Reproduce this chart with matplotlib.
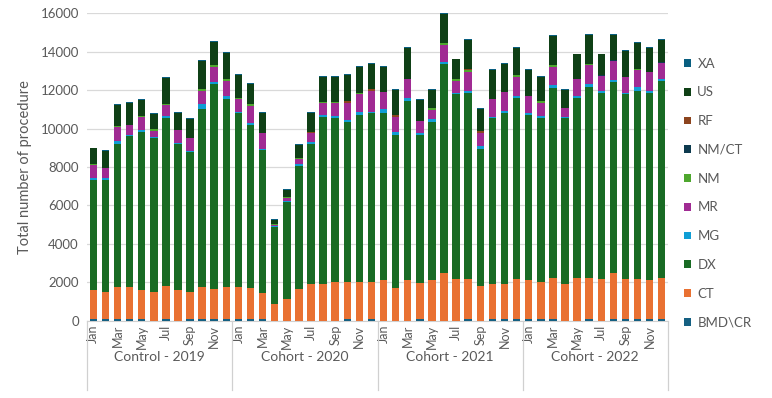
import matplotlib
matplotlib.use("Agg")
import matplotlib.pyplot as plt
from matplotlib.patches import Patch
import matplotlib.transforms as mtransforms
import numpy as np

months = ["Jan", "Feb", "Mar", "Apr", "May", "Jun", "Jul", "Aug", "Sep", "Oct", "Nov", "Dec"]
groups = ["Control - 2019", "Cohort - 2020", "Cohort - 2021", "Cohort - 2022"]
series_names = ["BMD\\CR", "CT", "DX", "MG", "MR", "NM", "NM/CT", "RF", "US", "XA"]

bmd = [80, 70, 70, 70, 70, 0, 80, 0, 70, 70, 70, 70,
       80, 70, 70, 0, 0, 0, 0, 0, 0, 70, 0, 70,
       0, 0, 0, 70, 0, 0, 0, 70, 0, 70, 70, 70,
       70, 70, 70, 0, 0, 70, 0, 70, 70, 70, 70, 70]
ct = [1510, 1430, 1700, 1700, 1520, 1500, 1740, 1590, 1440, 1700, 1580, 1700,
      1660, 1660, 1400, 870, 1130, 1650, 1900, 1900, 2030, 1960, 2030, 1960,
      2110, 1730, 2110, 1870, 2110, 2460, 2180, 2110, 1820, 1840, 1840, 2110,
      2040, 1960, 2180, 1910, 2250, 2180, 2150, 2390, 2110, 2110, 2040, 2180]
dx = [5750, 5840, 7440, 7820, 8230, 8000, 8750, 7620, 7290, 9230, 10660, 9760,
      9050, 8460, 7390, 4010, 5050, 6420, 7300, 8720, 8500, 8300, 8680, 8760,
      8720, 7940, 9320, 7730, 8250, 10880, 9600, 9680, 7130, 8620, 8890, 9390,
      8600, 8510, 9840, 8620, 9350, 9890, 9710, 9950, 9600, 9790, 9750, 10210]
mg = [90, 60, 120, 90, 100, 40, 90, 30, 30, 260, 120, 170,
      90, 90, 90, 30, 30, 100, 120, 90, 120, 120, 170, 90,
      170, 170, 140, 90, 120, 120, 90, 100, 120, 90, 120, 120,
      120, 90, 170, 50, 90, 170, 100, 100, 90, 170, 100, 100]
mr = [650, 520, 760, 500, 690, 350, 570, 660, 690, 710, 780, 780,
      650, 900, 810, 90, 200, 260, 430, 640, 690, 880, 910, 1070,
      910, 780, 1000, 620, 490, 860, 620, 980, 690, 910, 1000, 1010,
      880, 720, 950, 470, 880, 980, 760, 980, 830, 880, 980, 830]
nm = [50, 20, 20, 20, 20, 80, 20, 10, 10, 70, 80, 90,
      70, 80, 0, 10, 20, 20, 0, 20, 20, 0, 70, 0,
      0, 0, 0, 0, 80, 120, 80, 90, 0, 0, 0, 90,
      0, 90, 90, 0, 0, 90, 0, 0, 0, 70, 0, 0]
nmct = [10, 0, 0, 0, 0, 0, 0, 0, 0, 0, 0, 0,
        0, 0, 0, 0, 0, 0, 0, 0, 0, 0, 0, 0,
        0, 0, 0, 0, 0, 0, 0, 0, 0, 0, 0, 0,
        0, 0, 0, 0, 0, 0, 50, 50, 0, 0, 0, 70]
rf = [0, 0, 0, 0, 0, 0, 0, 0, 0, 0, 0, 0,
      0, 0, 0, 0, 0, 0, 80, 0, 0, 90, 0, 90,
      0, 90, 0, 0, 0, 0, 0, 90, 90, 0, 0, 0,
      0, 0, 0, 0, 0, 0, 0, 0, 0, 0, 0, 0]
us = [830, 900, 1120, 1150, 860, 790, 1380, 920, 970, 1460, 1190, 1360,
      1170, 1080, 1070, 250, 350, 710, 980, 1330, 1330, 1350, 1350, 1340,
      1300, 1270, 1620, 1090, 930, 1500, 1020, 1500, 1150, 1500, 1420, 1400,
      1330, 1240, 1530, 930, 1280, 1500, 1080, 1340, 1320, 1360, 1250, 1140]
xa = [40, 40, 50, 50, 40, 40, 40, 40, 40, 50, 50, 50,
      50, 50, 50, 40, 50, 50, 50, 50, 50, 50, 50, 50,
      50, 50, 50, 50, 50, 50, 50, 50, 50, 50, 50, 50,
      50, 50, 50, 50, 50, 50, 50, 50, 50, 50, 50, 50]

colors = ["#156082", "#E97132", "#196B24", "#0F9ED5", "#A02B93",
          "#4EA72E", "#0D3A4E", "#8C441E", "#0F4016", "#095F80"]

data = [bmd, ct, dx, mg, mr, nm, nmct, rf, us, xa]

plt.rcParams['font.family'] = ['Lato', 'DejaVu Sans']

fig = plt.figure(figsize=(7.72, 3.98), dpi=100)
ax = fig.add_axes([0.113, 0.194, 0.752, 0.773])

n = len(bmd)
x = np.arange(n)
bottom = np.zeros(n)
handles = []
for name, vals, col in zip(series_names, data, colors):
    vals = np.array(vals, dtype=float)
    ax.bar(x, vals, bottom=bottom, width=0.62, color=col, edgecolor='none', label=name, zorder=3)
    bottom += vals
    handles.append(Patch(facecolor=col, label=name))

ax.set_xlim(-0.5, n - 0.5)
ax.set_ylim(0, 16000)
ax.set_yticks(np.arange(0, 16001, 2000))
ax.yaxis.grid(True, color='#D9D9D9', linewidth=0.9, zorder=0)
ax.set_axisbelow(True)
for s in ['top', 'right', 'left']:
    ax.spines[s].set_visible(False)
ax.spines['bottom'].set_color('#D0D0D0')
ax.tick_params(axis='y', length=0, labelsize=9.5, labelcolor='#595959', pad=6)

tick_pos = [i for i in range(n) if i % 12 % 2 == 0]
tick_lab = [months[i % 12] for i in tick_pos]
ax.set_xticks(tick_pos)
ax.set_xticklabels(tick_lab, rotation=90, fontsize=9, color='#595959')
ax.tick_params(axis='x', length=0, pad=3)

ax.set_ylabel("Total number of procedure", fontsize=10.5, color='#595959', labelpad=6)

trans = mtransforms.blended_transform_factory(ax.transData, ax.transAxes)
for g, name in enumerate(groups):
    ax.text(g * 12 + 5.5, -0.118, name, transform=trans, ha='center', va='center',
            fontsize=10, color='#595959')
for b in range(5):
    ax.plot([b * 12 - 0.5, b * 12 - 0.5], [0, -0.225], transform=trans,
            color='#D0D0D0', linewidth=0.9, clip_on=False)

fig.legend(handles=handles[::-1], loc='upper left', bbox_to_anchor=(0.87, 0.885),
           frameon=False, fontsize=9.5, labelspacing=1.27, handlelength=0.55,
           handleheight=0.55, handletextpad=0.5, labelcolor='#595959')

fig.savefig("out.png", dpi=100)
